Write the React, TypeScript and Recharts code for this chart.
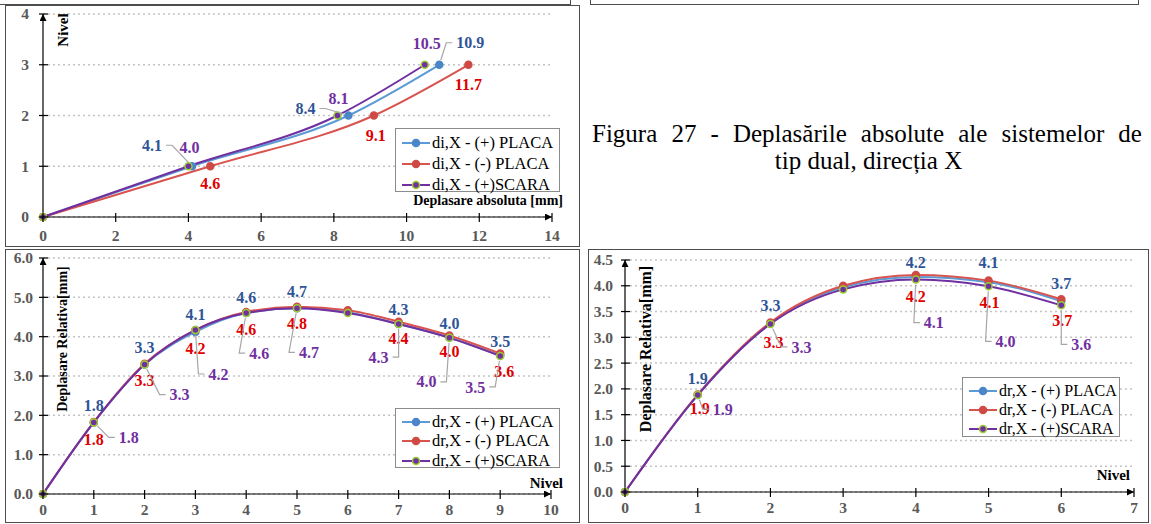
import React from "react";
import { CartesianGrid, LabelList, Legend, Line, LineChart, XAxis, YAxis } from "recharts";

const SERIF = '"Liberation Serif", "Times New Roman", serif';

// (a) deplasari absolute: nivel pe verticala, deplasare [mm] pe orizontala
const absNivel = [0, 1, 2, 3];
const absPlacaPlus = [0, 4.1, 8.4, 10.9];
const absPlacaMinus = [0, 4.6, 9.1, 11.7];
const absScara = [0, 4.0, 8.1, 10.5];
const absXTicks = [0, 2, 4, 6, 8, 10, 12, 14];
const absYTicks = [0, 1, 2, 3, 4];
const absNames = ["di,X - (+) PLACA", "di,X - (-) PLACA", "di,X - (+)SCARA"];

// (b) deplasari relative, 9 niveluri
const rel9Nivel = [0, 1, 2, 3, 4, 5, 6, 7, 8, 9];
const rel9PlacaPlus = [0, 1.82, 3.29, 4.12, 4.6, 4.72, 4.62, 4.32, 3.98, 3.52];
const rel9PlacaMinus = [0, 1.83, 3.31, 4.17, 4.63, 4.76, 4.67, 4.38, 4.03, 3.57];
const rel9Scara = [0, 1.82, 3.29, 4.17, 4.6, 4.72, 4.6, 4.32, 3.97, 3.51];
const rel9XTicks = [0, 1, 2, 3, 4, 5, 6, 7, 8, 9, 10];
const rel9YTicks = [0, 1, 2, 3, 4, 5, 6];

// (c) deplasari relative, 6 niveluri
const rel6Nivel = [0, 1, 2, 3, 4, 5, 6];
const rel6PlacaPlus = [0, 1.88, 3.27, 3.97, 4.17, 4.07, 3.7];
const rel6PlacaMinus = [0, 1.89, 3.29, 4.0, 4.21, 4.1, 3.74];
const rel6Scara = [0, 1.88, 3.26, 3.93, 4.12, 3.99, 3.62];
const rel6XTicks = [0, 1, 2, 3, 4, 5, 6, 7];
const rel6YTicks = [0, 0.5, 1, 1.5, 2, 2.5, 3, 3.5, 4, 4.5];
const relNames = ["dr,X - (+) PLACA", "dr,X - (-) PLACA", "dr,X - (+)SCARA"];

// pozitia etichetelor fata de punct: [dx, dy, linie de legatura]
type Off = [number, number, boolean] | null;
const absOffPlus: Off[] = [null, [-40, -21, true], [-43, -7, true], [31, -22, true]];
const absOffMinus: Off[] = [null, [0, 17, false], [2, 20, false], [0, 20, false]];
const absOffScara: Off[] = [null, [1, -19, false], [1, -17, false], [2, -21, false]];
const rel9OffPlus: Off[] = [null, [0, -17, false], [0, -17, false], [0, -18, false], [0, -16, false], [0, -17, false], null, [0, -15, false], [0, -14, false], [0, -14, false]];
const rel9OffMinus: Off[] = [null, [0, 17, false], [0, 17, false], [0, 18, false], [0, 18, false], [0, 17, false], null, [0, 17, false], [0, 16, false], [4, 18, false]];
const rel9OffScara: Off[] = [null, [35, 15, true], [35, 30, true], [23, 44, true], [13, 40, true], [12, 44, true], null, [-20, 33, true], [-23, 44, true], [-25, 31, true]];
const rel6OffPlus: Off[] = [null, [0, -17, false], [0, -18, false], null, [0, -15, false], [0, -20, false], [0, -18, false]];
const rel6OffMinus: Off[] = [null, [2, 14, false], [3, 20, false], null, [0, 21, false], [1, 22, false], [1, 21, false]];
const rel6OffScara: Off[] = [null, [25, 14, true], [31, 23, true], null, [18, 43, true], [17, 55, true], [20, 39, true]];

const BLUE = { line: "#5b9bd5", dot: "#4a86c8", ring: "#4a86c8", text: "#2f5597" };
const RED = { line: "#d9534f", dot: "#d04a45", ring: "#d04a45", text: "#e00000" };
const PURPLE = { line: "#7030a0", dot: "#7030a0", ring: "#9acd32", text: "#7030a0" };
const SERIES = [BLUE, RED, PURPLE];

const TICK_GREY = "#595959";

function xTick(dyText: number, fmt: (v: number) => string) {
  return (p: any) => (
    <g>
      <line x1={p.x} x2={p.x} y1={p.y - 4} y2={p.y + 5} stroke="#000" strokeWidth={1.2} />
      <text x={p.x} y={p.y + dyText} textAnchor="middle" fill={TICK_GREY} fontFamily={SERIF} fontWeight="bold" fontSize={15.5}>
        {fmt(p.payload.value)}
      </text>
    </g>
  );
}

function yTick(dxText: number, fmt: (v: number) => string) {
  return (p: any) => (
    <g>
      <line x1={p.x - 4} x2={p.x + 5} y1={p.y} y2={p.y} stroke="#000" strokeWidth={1.2} />
      <text x={p.x - dxText} y={p.y} dy="0.35em" textAnchor="end" fill={TICK_GREY} fontFamily={SERIF} fontWeight="bold" fontSize={15.5}>
        {fmt(p.payload.value)}
      </text>
    </g>
  );
}

function makeLabel(offs: Off[], color: string) {
  return (props: any) => {
    const { x, y, value, index } = props;
    const o = offs[index];
    if (!o || x == null || y == null) return null;
    const [dx, dy, lead] = o;
    const lx = x + dx;
    const ly = y + dy;
    const txt = Number(value).toFixed(1);
    let leader = null;
    if (lead) {
      const half = txt.length * 4 + 2;
      const s = dx >= 0 ? -1 : 1;
      const ax = lx + s * half;
      const ex = ax + s * 6;
      const vx = ex - x;
      const vy = ly - y;
      const len = Math.hypot(vx, vy) || 1;
      const px = x + (vx / len) * 5;
      const py = y + (vy / len) * 5;
      leader = <polyline points={`${ax},${ly} ${ex},${ly} ${px},${py}`} fill="none" stroke="#a6a6a6" strokeWidth={1.2} />;
    }
    return (
      <g>
        {leader}
        <text x={lx} y={ly} dy="0.35em" textAnchor="middle" fill={color} fontFamily={SERIF} fontWeight="bold" fontSize={16}>
          {txt}
        </text>
      </g>
    );
  };
}

function LegendBox({ payload, names, fontSize, rowH }: any) {
  const items = [...(payload || [])].sort(
    (a: any, b: any) => names.indexOf(a.value) - names.indexOf(b.value)
  );
  return (
    <div
      style={{
        boxSizing: "border-box",
        width: "100%",
        height: "100%",
        border: "1px solid #8c8c8c",
        background: "#fff",
        padding: "3px 0 0 6px",
        fontFamily: SERIF,
        fontSize,
        color: "#000",
      }}
    >
      {items.map((it: any) => {
        const s = SERIES[names.indexOf(it.value)];
        return (
          <div key={it.value} style={{ display: "flex", alignItems: "center", height: rowH }}>
            <svg width={28} height={10} style={{ marginRight: 2 }}>
              <line x1={0} x2={28} y1={5} y2={5} stroke={s.line} strokeWidth={2} />
              <circle cx={14} cy={5} r={3.5} fill={s.dot} stroke={s.ring} strokeWidth={1.5} />
            </svg>
            <span>{it.value}</span>
          </div>
        );
      })}
    </div>
  );
}

function ArrowDefs({ id }: { id: string }) {
  return (
    <defs>
      <marker id={id} viewBox="0 0 10 10" refX={10} refY={5} markerWidth={12} markerHeight={7} markerUnits="userSpaceOnUse" orient="auto-start-reverse">
        <path d="M0,0 L10,5 L0,10 z" fill="#000" />
      </marker>
    </defs>
  );
}

function seriesLines(keys: string[], names: string[], offs: Off[][], labelKeys: string[], datas?: any[][]) {
  return keys.map((k, i) => (
    <Line
      key={names[i]}
      data={datas ? datas[i] : undefined}
      type="monotone"
      dataKey={k}
      name={names[i]}
      stroke={SERIES[i].line}
      strokeWidth={2}
      dot={{ r: 3.5, fill: SERIES[i].dot, stroke: SERIES[i].ring, strokeWidth: 1.5 }}
      activeDot={false}
      isAnimationActive={false}
    >
      <LabelList dataKey={labelKeys[i]} content={makeLabel(offs[i], SERIES[i].text)} />
    </Line>
  ));
}

function AbsChart() {
  const datas = [absPlacaPlus, absPlacaMinus, absScara].map((serie) =>
    absNivel.map((n, i) => ({ d: serie[i], n }))
  );
  return (
    <LineChart width={580} height={246} margin={{ top: 14, right: 28, bottom: 0, left: 0 }}>
      <ArrowDefs id="arrA" />
      <CartesianGrid vertical={false} stroke="#c4c4c4" strokeDasharray="2 3" strokeWidth={1.5} />
      <XAxis
        type="number"
        dataKey="d"
        domain={[0, 14]}
        ticks={absXTicks}
        interval={0}
        height={29}
        tickSize={0}
        tickMargin={0}
        axisLine={{ stroke: "#000", strokeWidth: 1.2, markerEnd: "url(#arrA)" }}
        tick={xTick(24, (v) => String(v))}
      />
      <YAxis
        type="number"
        dataKey="n"
        domain={[0, 4]}
        ticks={absYTicks}
        interval={0}
        width={43}
        tickSize={0}
        tickMargin={0}
        axisLine={{ stroke: "#000", strokeWidth: 1.2, markerStart: "url(#arrA)" }}
        tick={yTick(14, (v) => String(v))}
      />
      {seriesLines(["n", "n", "n"], absNames, [absOffPlus, absOffMinus, absOffScara], ["d", "d", "d"], datas)}
      <Legend
        layout="vertical"
        align="center"
        verticalAlign="middle"
        wrapperStyle={{ left: 395, top: 128, width: 165, height: 64 }}
        content={(p: any) => <LegendBox payload={p.payload} names={absNames} fontSize={16.5} rowH={21} />}
      />
      <text transform="translate(63,30) rotate(-90)" textAnchor="middle" dy="0.35em" fontFamily={SERIF} fontWeight="bold" fontSize={15} fill="#000">
        Nivel
      </text>
      <text x={563} y={200} dy="0.35em" textAnchor="end" fontFamily={SERIF} fontWeight="bold" fontSize={14} fill="#000">
        Deplasare absoluta [mm]
      </text>
    </LineChart>
  );
}

function Rel9Chart() {
  const data = rel9Nivel.map((nivel, i) => ({
    nivel,
    plus: rel9PlacaPlus[i],
    minus: rel9PlacaMinus[i],
    scara: rel9Scara[i],
  }));
  return (
    <LineChart width={580} height={275} data={data} margin={{ top: 9, right: 29, bottom: 0, left: 0 }}>
      <ArrowDefs id="arrB" />
      <CartesianGrid vertical={false} stroke="#c4c4c4" strokeDasharray="2 3" strokeWidth={1.5} />
      <XAxis
        type="number"
        dataKey="nivel"
        domain={[0, 10]}
        ticks={rel9XTicks}
        interval={0}
        height={30}
        tickSize={0}
        tickMargin={0}
        axisLine={{ stroke: "#000", strokeWidth: 1.2, markerEnd: "url(#arrB)" }}
        tick={xTick(21, (v) => String(v))}
      />
      <YAxis
        type="number"
        domain={[0, 6]}
        ticks={rel9YTicks}
        interval={0}
        width={43}
        tickSize={0}
        tickMargin={0}
        axisLine={{ stroke: "#000", strokeWidth: 1.2, markerStart: "url(#arrB)" }}
        tick={yTick(10, (v) => v.toFixed(1))}
      />
      {seriesLines(["plus", "minus", "scara"], relNames, [rel9OffPlus, rel9OffMinus, rel9OffScara], ["plus", "minus", "scara"])}
      <Legend
        layout="vertical"
        align="center"
        verticalAlign="middle"
        wrapperStyle={{ left: 395, top: 159, width: 165, height: 60 }}
        content={(p: any) => <LegendBox payload={p.payload} names={relNames} fontSize={16.5} rowH={19.5} />}
      />
      <text transform="translate(62,90) rotate(-90)" textAnchor="middle" dy="0.35em" fontFamily={SERIF} fontWeight="bold" fontSize={14} fill="#000">
        Deplasare Relativa[mm]
      </text>
      <text x={563} y={234} dy="0.35em" textAnchor="end" fontFamily={SERIF} fontWeight="bold" fontSize={15} fill="#000">
        Nivel
      </text>
    </LineChart>
  );
}

function Rel6Chart() {
  const data = rel6Nivel.map((nivel, i) => ({
    nivel,
    plus: rel6PlacaPlus[i],
    minus: rel6PlacaMinus[i],
    scara: rel6Scara[i],
  }));
  return (
    <LineChart width={564} height={275} data={data} margin={{ top: 11, right: 17, bottom: 0, left: 0 }}>
      <ArrowDefs id="arrC" />
      <CartesianGrid vertical={false} stroke="#c4c4c4" strokeDasharray="2 3" strokeWidth={1.5} />
      <XAxis
        type="number"
        dataKey="nivel"
        domain={[0, 7]}
        ticks={rel6XTicks}
        interval={0}
        height={32}
        tickSize={0}
        tickMargin={0}
        axisLine={{ stroke: "#000", strokeWidth: 1.2, markerEnd: "url(#arrC)" }}
        tick={xTick(21, (v) => String(v))}
      />
      <YAxis
        type="number"
        domain={[0, 4.5]}
        ticks={rel6YTicks}
        interval={0}
        width={38}
        tickSize={0}
        tickMargin={0}
        axisLine={{ stroke: "#000", strokeWidth: 1.2, markerStart: "url(#arrC)" }}
        tick={yTick(12, (v) => v.toFixed(1))}
      />
      {seriesLines(["plus", "minus", "scara"], relNames, [rel6OffPlus, rel6OffMinus, rel6OffScara], ["plus", "minus", "scara"])}
      <Legend
        layout="vertical"
        align="center"
        verticalAlign="middle"
        wrapperStyle={{ left: 375, top: 128, width: 158, height: 60 }}
        content={(p: any) => <LegendBox payload={p.payload} names={relNames} fontSize={16} rowH={19} />}
      />
      <text transform="translate(58,100) rotate(-90)" textAnchor="middle" dy="0.35em" fontFamily={SERIF} fontWeight="bold" fontSize={16} fill="#000">
        Deplasare Relativa[mm]
      </text>
      <text x={543} y={226} dy="0.35em" textAnchor="end" fontFamily={SERIF} fontWeight="bold" fontSize={15} fill="#000">
        Nivel
      </text>
    </LineChart>
  );
}

const frame = (left: number, top: number, width: number, height: number): React.CSSProperties => ({
  position: "absolute",
  left,
  top,
  width,
  height,
  boxSizing: "border-box",
  border: "1px solid #4d4d4d",
});

const captionLine: React.CSSProperties = {
  position: "absolute",
  fontFamily: SERIF,
  fontSize: 25,
  lineHeight: "26px",
  color: "#000",
  whiteSpace: "nowrap",
};

export default function App() {
  return (
    <div style={{ position: "absolute", left: 0, top: 0, width: 1151, height: 524, background: "#fff", overflow: "hidden" }}>
      <div style={{ ...frame(-2, -10, 573, 15), borderWidth: 1.5 }} />
      <div style={{ ...frame(590, -10, 549, 15), borderWidth: 1.5 }} />
      <div style={frame(5, 5, 575, 242)} />
      <div style={frame(5, 249, 575, 274)} />
      <div style={frame(588, 249, 561, 274)} />

      <div style={{ position: "absolute", left: 0, top: 0 }}>
        <AbsChart />
      </div>
      <div style={{ position: "absolute", left: 0, top: 249 }}>
        <Rel9Chart />
      </div>
      <div style={{ position: "absolute", left: 587, top: 249 }}>
        <Rel6Chart />
      </div>

      <div style={{ ...captionLine, left: 592, top: 121, width: 550, display: "flex", justifyContent: "space-between" }}>
        {"Figura 27 - Deplasările absolute ale sistemelor de".split(" ").map((w, i) => (
          <span key={i}>{w}</span>
        ))}
      </div>
      <div style={{ ...captionLine, left: 588, top: 148, width: 561, textAlign: "center" }}>
        tip dual, direcția X
      </div>
    </div>
  );
}
